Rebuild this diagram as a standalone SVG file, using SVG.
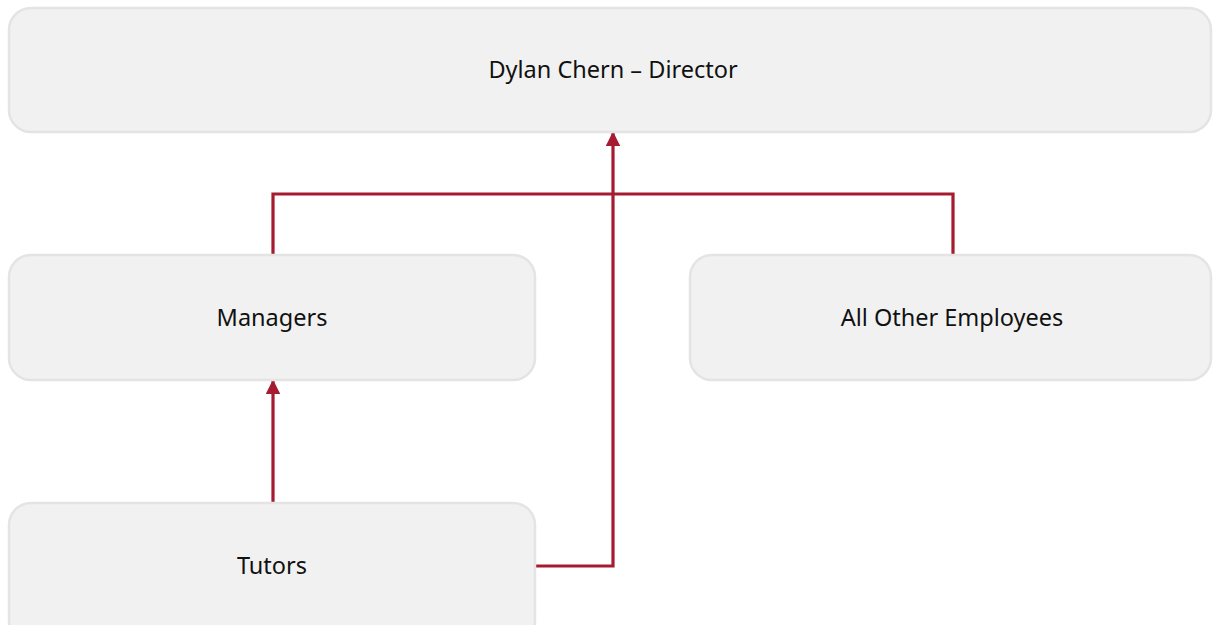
<svg xmlns="http://www.w3.org/2000/svg" width="1213" height="625" viewBox="0 0 1213 625">
<defs>
<style>
.box{fill:#f1f1f1;stroke:#e4e4e4;stroke-width:2.5}
.lbl{font-family:"Noto Sans","Open Sans",sans-serif;font-size:23.5px;fill:#111;text-anchor:middle;dominant-baseline:central}
.con{fill:none;stroke:#a51c30;stroke-width:3.2}
</style>
<marker id="arr" viewBox="0 0 10 10" refX="9" refY="5" markerWidth="4.5" markerHeight="4.5" orient="auto" markerUnits="strokeWidth">
<path d="M0,0 L10,5 L0,10 Z" fill="#a51c30"/>
</marker>
</defs>
<rect width="1213" height="625" fill="#ffffff"/>
<g id="connectors">
<path class="con" d="M273,255 V194 H953 V255"/>
<path class="con" d="M535,566 H613 V133" marker-end="url(#arr)"/>
<path class="con" d="M273,503 V381" marker-end="url(#arr)"/>
</g>
<g id="director">
<rect class="box" x="9" y="8" width="1202" height="124" rx="22"/>
<text class="lbl" x="613" y="69">Dylan Chern – Director</text>
</g>
<g id="managers">
<rect class="box" x="9" y="255" width="526" height="125" rx="22"/>
<text class="lbl" x="272" y="317">Managers</text>
</g>
<g id="others">
<rect class="box" x="690" y="255" width="521" height="125" rx="22"/>
<text class="lbl" x="952" y="317">All Other Employees</text>
</g>
<g id="tutors">
<rect class="box" x="9" y="503" width="526" height="140" rx="22"/>
<text class="lbl" x="272" y="565">Tutors</text>
</g>
</svg>
